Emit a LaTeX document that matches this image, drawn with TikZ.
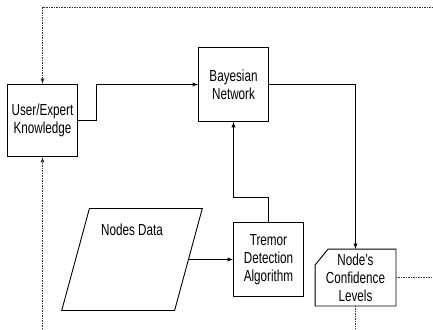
\documentclass[tikz,border=0pt]{standalone}
\usepackage{fontspec}
\setmainfont[FakeStretch=0.73]{Liberation Sans}
\usetikzlibrary{shapes.geometric}

\begin{document}
\begin{tikzpicture}[x=1pt,y=-1pt,font=\fontsize{16}{18}\selectfont,>=latex,line width=0.9pt]
	\useasboundingbox (0,0) rectangle (433,329);
	\tikzset{box/.style={draw,rectangle,align=center,minimum width=70pt,minimum height=74pt,inner sep=1pt},
	  fb/.style={dash pattern=on 1.5pt off 1pt,draw=black!80}}

	%boxes
	\node[box,minimum height=72pt] (user) at (42.5,120.5) {User/Expert\\Knowledge};
	\node[box] (bayes) at (233.5,84.5) {Bayesian\\Network};
	\node[box] (tremor) at (268.5,259.5) {Tremor\\Detection\\Algorithm};

	%input data
	\node[draw,trapezium,trapezium left angle=72,trapezium right angle=108,trapezium stretches=true,
	  minimum width=140.6pt,minimum height=102pt] (data) at (132,259.5) {};
	\node (datatext) at (132,230) {Nodes Data};

	%output (corner cut at top left)
	\node[align=center,minimum width=80pt,minimum height=56pt,inner sep=0pt] (conf) at (355.5,277.5) {Node's\\Confidence\\Levels};
	\draw ([xshift=13pt]conf.north west) -- (conf.north east) -- (conf.south east) -- (conf.south west)
	  -- ([yshift=-16pt]conf.north west) -- cycle;

	%feedback ends
	\coordinate (fbtop) at (433,7.5);
	\coordinate (fbbot) at (42.5,329);
	\coordinate (fbright) at (433,277.5);
	\coordinate (fbdown) at (355.5,329);

	%connectors
	\draw[->] (user.east) -- ++(18,0) |- (bayes.west); %knowledge to BN
	\draw[->] (bayes.east) -| (conf.north); %BN to levels
	\draw[->] (tremor.north) -- ++(0,-25) -| (bayes.south); %algorithm to BN
	\draw[->] (data.east) -- (tremor.west); %data to algorithm

	%dashed feedback
	\draw[fb,->] (fbtop) -| (user.north);
	\draw[fb,->] (fbbot) -- (user.south);
	\draw[fb] (conf.east) -- (fbright);
	\draw[fb] (conf.south) -- (fbdown);
\end{tikzpicture}
\end{document}
